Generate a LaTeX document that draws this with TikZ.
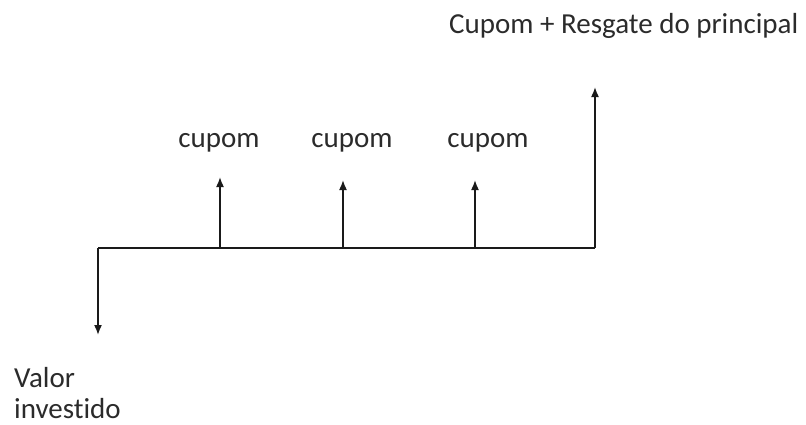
\documentclass[tikz,border=0pt]{standalone}
\usepackage{fontspec}
\setmainfont{Carlito}[Ligatures={NoCommon}]
\usetikzlibrary{arrows.meta}
\definecolor{ink}{HTML}{1A1A1A}
\definecolor{txt}{HTML}{2B2B2B}
\tikzset{
  flow/.style={draw=ink, line width=1.6pt, -{Latex[length=10pt,width=8pt]}},
  axis/.style={draw=ink, line width=1.6pt},
  lbl/.style={font=\fontsize{29}{32}\selectfont, text=txt, inner sep=0pt, anchor=base},
}
\begin{document}
\begin{tikzpicture}[x=1pt,y=-1pt]
\useasboundingbox (0,0) rectangle (806,424);
% timeline points
\coordinate (t0) at (98,248);
\coordinate (t1) at (220,248);
\coordinate (t2) at (343,248);
\coordinate (t3) at (475,248);
\coordinate (t4) at (595,248);
% arrow ends
\coordinate (e0) at (98,335);
\coordinate (e1) at (220,177);
\coordinate (e2) at (343,180);
\coordinate (e3) at (475,180);
\coordinate (e4) at (595,87);
\draw[axis] (t0) -- (t4);
\draw[flow] (t0) -- (e0);
\draw[flow] (t1) -- (e1);
\draw[flow] (t2) -- (e2);
\draw[flow] (t3) -- (e3);
\draw[flow] (t4) -- (e4);
% labels
\node[lbl] (c1) at (219,147) {cupom};
\node[lbl] (c2) at (352,147) {cupom};
\node[lbl] (c3) at (488,147) {cupom};
\node[lbl, anchor=base west] (top) at (449,33) {Cupom + Resgate do principal};
\node[lbl, anchor=base west] (v1) at (14,387) {Valor};
\node[lbl, anchor=base west] (v2) at (14,418) {investido};
\end{tikzpicture}
\end{document}
